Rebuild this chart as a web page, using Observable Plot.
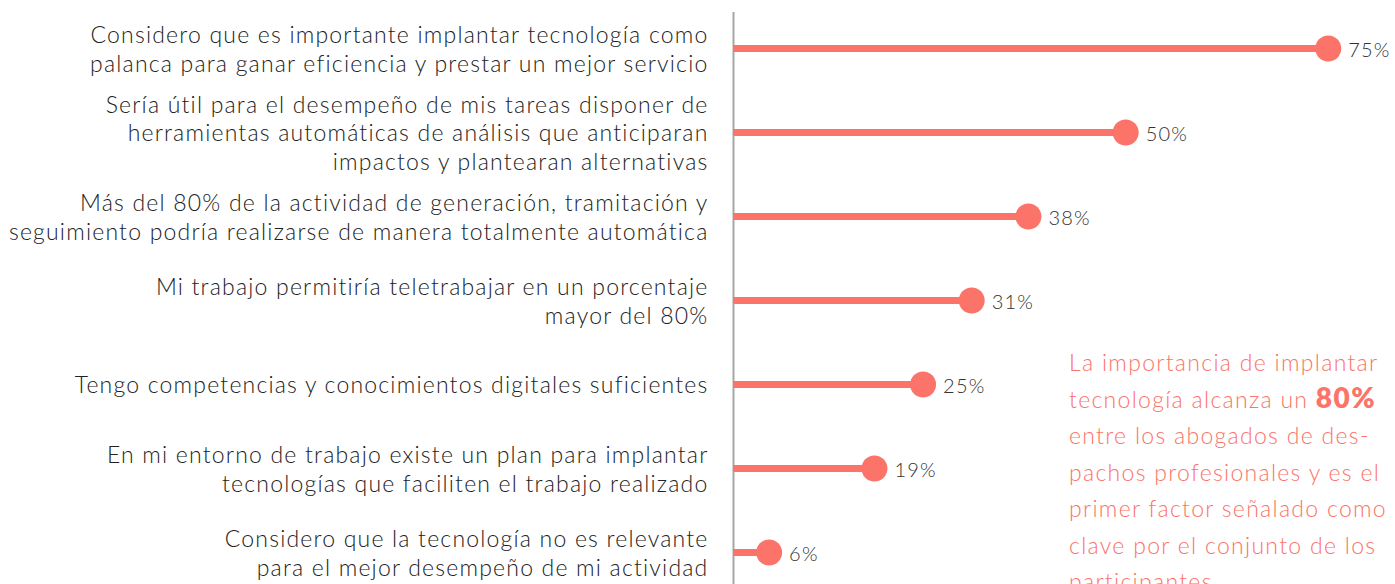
<!DOCTYPE html>
<html><head><meta charset="utf-8">
<script src="https://cdn.jsdelivr.net/npm/d3@7"></script>
<script src="https://cdn.jsdelivr.net/npm/@observablehq/plot@0.6"></script>
<style>
body{margin:0;background:#fff;overflow:hidden;}
#wrap{position:relative;width:1395px;height:584px;overflow:hidden;}
#wrap svg text{letter-spacing:1.2px;}
#note{position:absolute;left:1069px;top:344px;width:330px;font-family:Lato,sans-serif;font-weight:300;font-size:23px;letter-spacing:1.3px;line-height:36.5px;color:#fb7369;white-space:nowrap;}
#note b{font-weight:800;font-size:28px;letter-spacing:1.5px;line-height:20px}
</style></head><body><div id="wrap"></div>
<script>
const statements = [
  "Considero que es importante implantar tecnología como\npalanca para ganar eficiencia y prestar un mejor servicio",
  "Sería útil para el desempeño de mis tareas disponer de\nherramientas automáticas de análisis que anticiparan\nimpactos y plantearan alternativas",
  "Más del 80% de la actividad de generación, tramitación y\nseguimiento podría realizarse de manera totalmente automática",
  "Mi trabajo permitiría teletrabajar en un porcentaje\nmayor del 80%",
  "Tengo competencias y conocimientos digitales suficientes",
  "En mi entorno de trabajo existe un plan para implantar\ntecnologías que faciliten el trabajo realizado",
  "Considero que la tecnología no es relevante\npara el mejor desempeño de mi actividad"
];
const values = [75, 50, 38, 31, 25, 19, 6];
const noteLines = [
  "La importancia de implantar",
  "tecnología alcanza un <b>80%</b>",
  "entre los abogados de des-",
  "pachos profesionales y es el",
  "primer factor señalado como",
  "clave por el conjunto de los",
  "participantes"
];

const data = statements.map((s, i) => ({statement: s, value: values[i]}));
const coral = "#fb7369";

const chart = Plot.plot({
  width: 1395, height: 584,
  marginLeft: 720, marginRight: 0, marginTop: 47, marginBottom: 32,
  x: {domain: [0, 83.3], axis: null},
  y: {type: "point", domain: statements, padding: 0, axis: null},
  style: {fontFamily: "Lato, sans-serif", fontWeight: 300, background: "#fff", overflow: "visible"},
  marks: [
    Plot.ruleX([0], {dx: 13, insetTop: -35, insetBottom: -32, stroke: "#a6a6a6", strokeWidth: 2}),
    Plot.ruleY(data, {y: "statement", x1: 0, x2: "value", insetLeft: 13, stroke: coral, strokeWidth: 7}),
    Plot.dot(data, {x: "value", y: "statement", r: 13, fill: coral}),
    Plot.text(data, {x: "value", y: "statement", text: d => d.value + "%", textAnchor: "start", dx: 20, dy: 2, fontSize: 20, fill: "#333"}),
    Plot.text(data, {x: 0, y: "statement", text: "statement", textAnchor: "end", dx: -12, dy: 0, fontSize: 23, lineHeight: 1.22, fill: "#222"})
  ]
});
const wrap = document.getElementById("wrap");
wrap.appendChild(chart);
const note = document.createElement("div");
note.id = "note";
note.innerHTML = noteLines.join("<br>");
wrap.appendChild(note);
</script>
</body></html>
